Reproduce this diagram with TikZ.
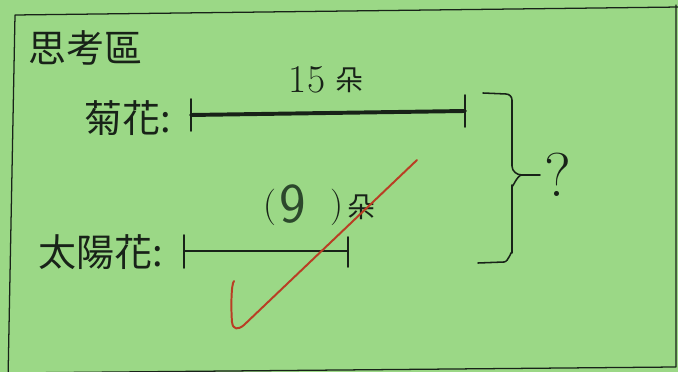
\documentclass[tikz,border=0pt]{standalone}
\usepackage{fontspec}
\newfontfamily\cjk{Noto Sans CJK TC}
\definecolor{paper}{RGB}{155,216,134}
\definecolor{ink}{RGB}{24,34,24}
\definecolor{pencil}{RGB}{44,72,44}
\definecolor{redpen}{RGB}{185,62,36}
\begin{document}
\begin{tikzpicture}[x=0.025cm, y=-0.025cm, line cap=round, line join=round, draw=ink,
  lbl/.style={inner sep=0pt, anchor=west, text=ink, font=\cjk\fontsize{27}{30}\selectfont},
  unit/.style={inner sep=0pt, text=ink, font=\cjk\fontsize{20}{22}\selectfont},
  num/.style={inner sep=0pt, text=ink, font=\fontsize{28}{32}\selectfont}]
	\fill[paper] (0,0) rectangle (678,372);
	\useasboundingbox (0,0) rectangle (678,372);
	\clip (0,0) rectangle (678,372);
	\draw[line width=0.9pt] (8,380) -- (15,15) -- (680,7);
	\draw[line width=0.9pt] (676,5) -- (676,367) -- (5,373);
	\node[lbl] (title) at (28,48) {思考區};
	\node[lbl] (juhua) at (84,118) {菊花:};
	\node[lbl] (taiyang) at (38,252) {太陽花:};
	\coordinate (jhL) at (191,115);
	\coordinate (jhR) at (465,111);
	\coordinate (tyL) at (184,251);
	\coordinate (tyR) at (348,251);
	\draw[line width=2.8pt] (jhL) -- (jhR);
	\draw[line width=1.1pt] (jhL) ++(0,-16) -- ++(0,32);
	\draw[line width=1.1pt] (jhR) ++(0,-16) -- ++(0,32);
	\draw[line width=1.3pt] (tyL) -- (tyR);
	\draw[line width=1.1pt] (tyL) ++(0,-16) -- ++(0,33);
	\draw[line width=1.1pt] (tyR) ++(0,-14) -- ++(0,30);
	\node[num] (fifteen) at (307,80) {15};
	\node[unit] (duoA) at (350,80) {朵};
	\node[num, font=\fontsize{26}{30}\selectfont] (lp) at (270,207) {(};
	\node[inner sep=0pt, text=pencil, font=\fontsize{40}{44}\selectfont\sffamily] (nine) at (293,204) {9};
	\node[num, font=\fontsize{26}{30}\selectfont] (rp) at (337,207) {)};
	\node[unit] (duoB) at (362,207) {朵};
	\draw[line width=1.1pt] (483,93) -- (506,94) to[out=0,in=90] (512,100) -- (512,166)
		to[out=-90,in=180] (522,175) -- (540,175);
	\draw[line width=1.1pt] (522,175) to[out=180,in=-90] (512,185) -- (512,253)
		to[out=90,in=0] (504,262) -- (478,263);
	\node[inner sep=0pt, text=ink, font=\fontsize{44}{48}\selectfont] (ques) at (558,175) {?};
	\draw[redpen, line width=1.4pt] (234,281) .. controls (231,284) and (231,310) .. (232,322)
		.. controls (233,330) and (238,330) .. (244,325) -- (417,160);
\end{tikzpicture}
\end{document}
